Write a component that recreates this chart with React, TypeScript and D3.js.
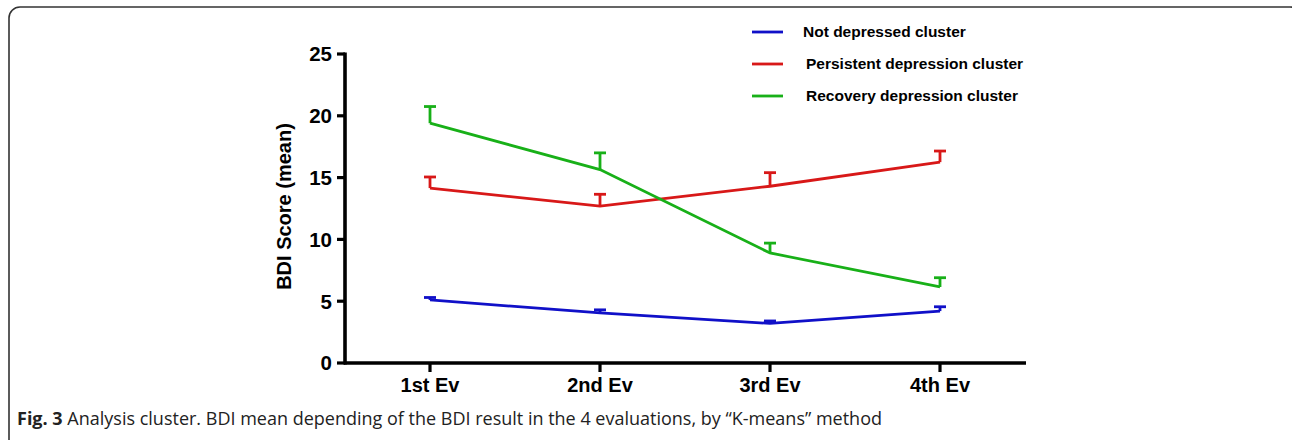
import React from "react";
import * as d3 from "d3";

const evaluations = ["1st Ev", "2nd Ev", "3rd Ev", "4th Ev"];
const seriesNames = [
  "Not depressed cluster",
  "Persistent depression cluster",
  "Recovery depression cluster",
];
const notDepressed = [5.1, 4.05, 3.2, 4.2];
const notDepressedErr = [5.3, 4.3, 3.4, 4.55];
const persistent = [14.15, 12.7, 14.3, 16.25];
const persistentErr = [15.05, 13.65, 15.4, 17.15];
const recovery = [19.4, 15.65, 8.9, 6.15];
const recoveryErr = [20.75, 17.0, 9.7, 6.9];
const yTicks = [0, 5, 10, 15, 20, 25];

const colors = ["#1010c8", "#d81818", "#18b018"];

const W = 1292;
const H = 440;

const App = () => {
  const x = d3.scalePoint<string>().domain(evaluations).range([345, 1025]).padding(0.5);
  const y = d3.scaleLinear().domain([0, 25]).range([363, 54]);

  const series = [
    { name: seriesNames[0], values: notDepressed, err: notDepressedErr, color: colors[0] },
    { name: seriesNames[1], values: persistent, err: persistentErr, color: colors[1] },
    { name: seriesNames[2], values: recovery, err: recoveryErr, color: colors[2] },
  ];

  const line = d3
    .line<number>()
    .x((_, i) => x(evaluations[i]) as number)
    .y((d) => y(d));

  const axisFont = "Liberation Sans, Arial, sans-serif";

  return (
    <svg
      width={W}
      height={H}
      style={{ position: "absolute", left: 0, top: 0, background: "#fff" }}
    >
      {/* frame */}
      <rect x={9} y={7} width={1292} height={450} rx={11} fill="none" stroke="#333" strokeWidth={1.6} />

      {/* series */}
      {series.map((s) => (
        <g key={s.name}>
          <path d={line(s.values) || ""} fill="none" stroke={s.color} strokeWidth={2.8} />
          {s.values.map((v, i) => {
            const cx = x(evaluations[i]) as number;
            return (
              <g key={i} stroke={s.color} strokeWidth={2.8}>
                <line x1={cx} x2={cx} y1={y(v)} y2={y(s.err[i])} />
                <line x1={cx - 6} x2={cx + 6} y1={y(s.err[i])} y2={y(s.err[i])} />
              </g>
            );
          })}
        </g>
      ))}

      {/* y axis */}
      <line x1={345} x2={345} y1={y(25) - 1.5} y2={y(0) + 1.5} stroke="#000" strokeWidth={3.6} />
      {yTicks.map((t) => (
        <g key={t}>
          <line x1={337} x2={345} y1={y(t)} y2={y(t)} stroke="#000" strokeWidth={3.2} />
          <text
            x={332}
            y={y(t)}
            dy="0.36em"
            textAnchor="end"
            fontFamily={axisFont}
            fontWeight="bold"
            fontSize={20.5}
          >
            {t}
          </text>
        </g>
      ))}
      <text
        transform={`translate(291,${(y(0) + y(25)) / 2 - 2}) rotate(-90)`}
        textAnchor="middle"
        fontFamily={axisFont}
        fontWeight="bold"
        fontSize={20}
      >
        BDI Score (mean)
      </text>

      {/* x axis */}
      <line x1={344} x2={1026} y1={y(0)} y2={y(0)} stroke="#000" strokeWidth={3.6} />
      {evaluations.map((e) => (
        <g key={e}>
          <line x1={x(e)} x2={x(e)} y1={y(0)} y2={y(0) + 9} stroke="#000" strokeWidth={3.2} />
          <text
            x={x(e)}
            y={392}
            textAnchor="middle"
            fontFamily={axisFont}
            fontWeight="bold"
            fontSize={20}
          >
            {e}
          </text>
        </g>
      ))}

      {/* legend */}
      {series.map((s, i) => (
        <g key={s.name} transform={`translate(752,${32 + i * 32})`}>
          <line x1={0} x2={31} y1={0} y2={0} stroke={s.color} strokeWidth={2.8} />
          <text
            x={i === 0 ? 51 : 54}
            y={0}
            dy="0.35em"
            fontFamily={axisFont}
            fontWeight="bold"
            fontSize={15.5}
          >
            {s.name}
          </text>
        </g>
      ))}

      {/* caption */}
      <text
        x={17}
        y={425}
        fontFamily="Open Sans, sans-serif"
        fontSize={18}
        fill="#222"
        textLength={865}
        lengthAdjust="spacingAndGlyphs"
      >
        <tspan fontWeight="bold">Fig. 3</tspan>
        <tspan> Analysis cluster. BDI mean depending of the BDI result in the 4 evaluations, by “K-means” method</tspan>
      </text>
    </svg>
  );
};

export default App;
